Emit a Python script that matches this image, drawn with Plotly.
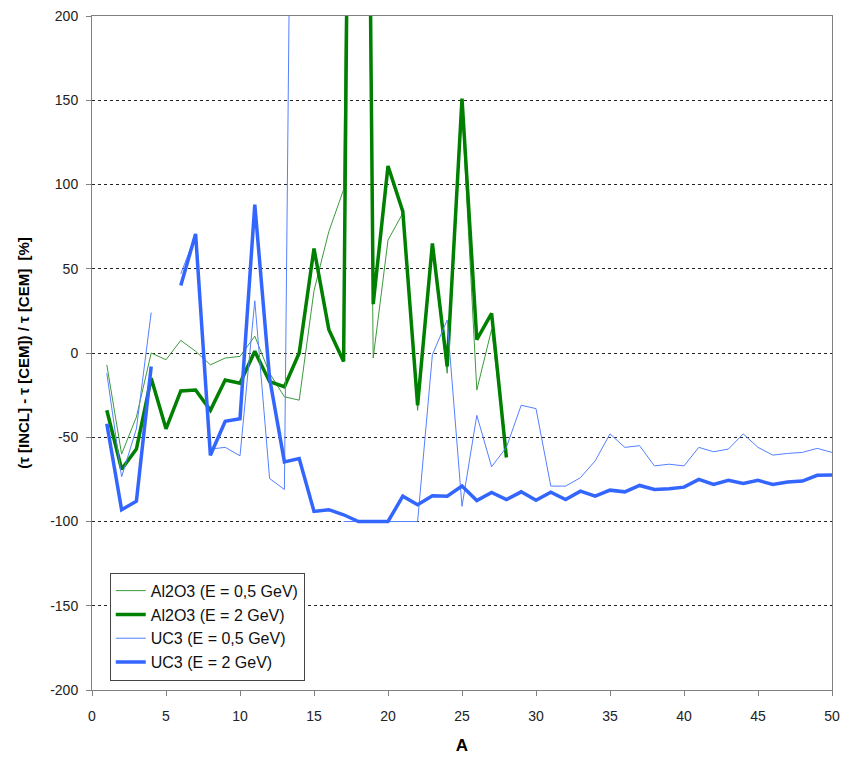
import plotly.graph_objects as go

A_al = list(range(1, 29))
A_uc = list(range(1, 51))

al2o3_05 = [-7, -60, -38, 0, -4, 7.5, 1, -7, -3, -2, 10, -12, -26, -28, 37, 72, 97, 900,
            -3, 67, 83, -34, 62, -12, 145, -22, 14, -60]
al2o3_2 = [-34, -69, -57, -15, -45, -22.5, -22, -34, -16, -18, 1, -17, -20, 0, 62, 14, -5, 1000,
           29, 111, 84, -31, 65, -8, 151, 8, 23.5, -62]
uc3_05 = [-12, -73.5, -45, 24, None, 47, 70, -57, -56, -61, 31, -74.5, -81, 820, None, None,
          -100, -100, -100, -100, -100, -100, -1, 19.6, -91, -37, -67.5, -56, -31, -33,
          -79, -79, -74, -64, -48, -56, -55, -67, -66, -67, -56, -58.6, -57, -48, -56,
          -60.6, -59.6, -59, -56.6, -59]
uc3_2 = [-42, -93, -88, -8, None, 40, 70.7, -60.7, -40.5, -39, 88, -15, -64.6, -62.6, -94,
         -93, -96, -100, -100, -100, -85, -90, -84.7, -85, -79, -87.6, -82.7, -87, -82.4,
         -87.4, -82.6, -87, -82, -85, -81.4, -82.4, -78.6, -81, -80.6, -79.6, -75, -78,
         -75.6, -77.4, -75.6, -78, -76.6, -76, -72.6, -72.4]

names = ["Al2O3 (E = 0,5 GeV)", "Al2O3 (E = 2 GeV)", "UC3 (E = 0,5 GeV)", "UC3 (E = 2 GeV)"]

y_ticks = list(range(-200, 201, 50))
y_ticktext = [str(v) for v in y_ticks]
x_ticks = list(range(0, 51, 5))

FONT = "Arial, Liberation Sans, sans-serif"

fig = go.Figure()
fig.add_trace(go.Scatter(x=A_al, y=al2o3_05, mode="lines", name=names[0],
                         line=dict(color="#3d9a3d", width=1), connectgaps=False))
fig.add_trace(go.Scatter(x=A_al, y=al2o3_2, mode="lines", name=names[1],
                         line=dict(color="#008000", width=3.5), connectgaps=False))
fig.add_trace(go.Scatter(x=A_uc, y=uc3_05, mode="lines", name=names[2],
                         line=dict(color="#5580ff", width=1), connectgaps=False))
fig.add_trace(go.Scatter(x=A_uc, y=uc3_2, mode="lines", name=names[3],
                         line=dict(color="#3366ff", width=3.5), connectgaps=False))

fig.update_layout(
    width=844, height=762,
    margin=dict(l=92, r=12, t=16, b=72),
    paper_bgcolor="white", plot_bgcolor="white",
    font=dict(family=FONT, size=14, color="black"),
    showlegend=True,
    legend=dict(x=0.024, y=0.174, xanchor="left", yanchor="top",
                bgcolor="white", bordercolor="#444", borderwidth=1,
                font=dict(family=FONT, size=16, color="#111"),
                itemwidth=30, tracegroupgap=0),
    xaxis=dict(range=[0, 50], tickvals=x_ticks, showgrid=False, automargin=False,
               showline=True, linecolor="#808080", linewidth=1, mirror=True,
               ticks="outside", ticklen=5, tickcolor="#808080", zeroline=False,
               ticklabelstandoff=8, ticklabeloverflow="allow",
               tickfont=dict(family=FONT, size=14, color="#222"),
               title=dict(text="<b>A</b>", font=dict(family=FONT, size=17), standoff=16)),
    yaxis=dict(range=[-200, 200], tickvals=y_ticks, ticktext=y_ticktext, automargin=False,
               showgrid=True, gridcolor="#222", griddash="3px,3px", gridwidth=1,
               showline=True, linecolor="#808080", linewidth=1, mirror=True,
               ticks="outside", ticklen=5, tickcolor="#808080", zeroline=False,
               ticklabelstandoff=5, ticklabeloverflow="allow",
               tickfont=dict(family=FONT, size=14, color="#222"),
               title=dict(text="<b>(τ [INCL] - τ [CEM]) / τ [CEM]  [%]</b>",
                          font=dict(family=FONT, size=15), standoff=16)),
)

fig.write_html("out.html", config={"displayModeBar": False},
               post_script="document.body.style.margin='0';document.body.style.overflow='hidden';")
